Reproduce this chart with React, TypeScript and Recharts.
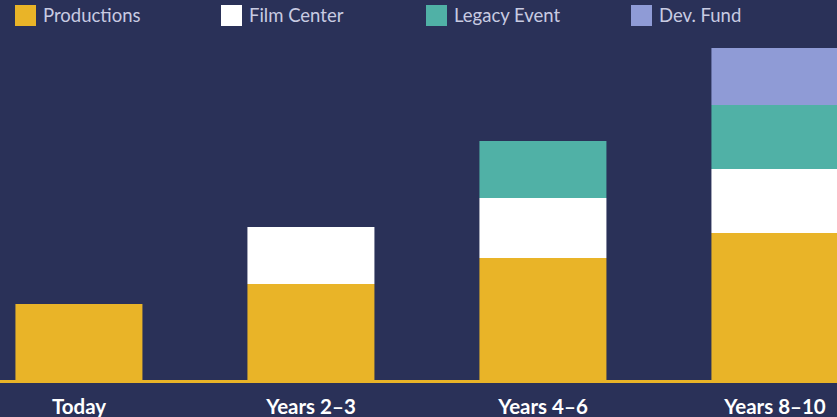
import React from "react";
import { BarChart, Bar, XAxis, YAxis, ReferenceLine } from "recharts";

const categories = ["Today", "Years 2–3", "Years 4–6", "Years 8–10"];
const productions = [7.9, 9.9, 12.5, 15.0];
const filmCenter = [0, 5.7, 6.0, 6.4];
const legacyEvent = [0, 0, 5.7, 6.4];
const devFund = [0, 0, 0, 5.7];

const seriesNames = ["Productions", "Film Center", "Legacy Event", "Dev. Fund"];
const seriesKeys = ["productions", "filmCenter", "legacyEvent", "devFund"];
const seriesColors = ["#e9b428", "#ffffff", "#50b1a6", "#8f9bd6"];

const data = categories.map((c, i) => ({
  name: c,
  productions: productions[i],
  filmCenter: filmCenter[i],
  legacyEvent: legacyEvent[i],
  devFund: devFund[i],
}));

const BG = "#2a3158";
const FONT = "Lato, 'Open Sans', sans-serif";
const legendX = [15, 221, 426, 631];

const Tick = (props: any) => {
  const { x, y, payload } = props;
  return (
    <text x={x} y={y + 23} textAnchor="middle" fill="#ffffff" fontFamily={FONT} fontWeight={700} fontSize={20.5}>
      {payload.value}
    </text>
  );
};

const BaseLine = (props: any) => {
  const { x1, x2, y1 } = props;
  return <line x1={x1} x2={x2} y1={y1 - 1.5} y2={y1 - 1.5} stroke="#e9b428" strokeWidth={3} />;
};

export default function App() {
  return (
    <div style={{ position: "absolute", left: 0, top: 0, width: 837, height: 417, overflow: "hidden", background: BG }}>
      <div style={{ position: "absolute", left: -37.5, top: 0 }}>
        <BarChart width={928} height={417} data={data} margin={{ top: 48, right: 0, bottom: 4, left: 0 }} barCategoryGap="22.6%">
          <XAxis dataKey="name" axisLine={false} tickLine={false} height={30} tick={<Tick />} interval={0} />
          <YAxis hide domain={[0, 33.5]} />
          <ReferenceLine y={0} shape={<BaseLine />} ifOverflow="visible" />
          {seriesKeys.map((k, i) => (
            <Bar key={k} dataKey={k} stackId="a" fill={seriesColors[i]} isAnimationActive={false} />
          ))}
        </BarChart>
      </div>
      {seriesNames.map((n, i) => (
        <div key={n} style={{ position: "absolute", left: legendX[i], top: 5, display: "flex", alignItems: "center", height: 21 }}>
          <div style={{ width: 21, height: 21, background: seriesColors[i] }} />
          <span style={{ marginLeft: 7, color: "#c8cbe2", fontFamily: FONT, fontSize: 18.5, lineHeight: "21px" }}>{n}</span>
        </div>
      ))}
    </div>
  );
}
